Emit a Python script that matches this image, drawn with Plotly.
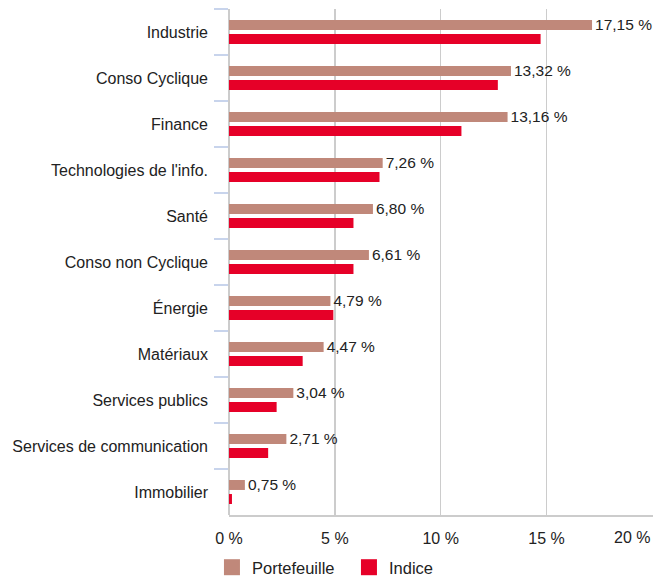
import plotly.graph_objects as go

categories = ["Industrie", "Conso Cyclique", "Finance", "Technologies de l'info.", "Santé",
              "Conso non Cyclique", "Énergie", "Matériaux", "Services publics",
              "Services de communication", "Immobilier"]
portefeuille = [17.15, 13.32, 13.16, 7.26, 6.80, 6.61, 4.79, 4.47, 3.04, 2.71, 0.75]
indice = [14.72, 12.70, 10.98, 7.11, 5.88, 5.88, 4.93, 3.48, 2.25, 1.85, 0.14]
x_ticks = [0, 5, 10, 15, 20]
x_tick_labels = ["0 %", "5 %", "10 %", "15 %", "20 %"]

FONT = "Liberation Sans, Arial, Helvetica, sans-serif"
BROWN = "#C0887A"
RED = "#E60028"
TXT = "#222222"

fig = go.Figure()
fig.add_trace(go.Bar(
    y=categories, x=portefeuille, orientation="h", name="Portefeuille",
    marker=dict(color=BROWN, line=dict(width=0)),
    texttemplate="%{x:.2f} %", textposition="outside", constraintext="none",
    textfont=dict(size=15.5, color=TXT, family=FONT),
    cliponaxis=False, hoverinfo="skip", showlegend=False,
))
fig.add_trace(go.Bar(
    y=categories, x=indice, orientation="h", name="Indice",
    marker=dict(color=RED, line=dict(width=0)),
    cliponaxis=False, hoverinfo="skip", showlegend=False,
))
# legend swatches
for nm, col in [("Portefeuille", BROWN), ("Indice", RED)]:
    fig.add_trace(go.Scatter(
        x=[None], y=[None], mode="markers", name=nm,
        marker=dict(symbol="square", size=16, color=col), hoverinfo="skip",
    ))

# last tick label is right-aligned to its gridline, as in the reference
fig.add_annotation(
    x=x_ticks[-1], y=0, xref="x", yref="paper", text=x_tick_labels[-1],
    showarrow=False, xanchor="right", yanchor="top", yshift=-12,
    font=dict(size=16, color=TXT, family=FONT),
)

fig.update_layout(
    width=655, height=577,
    margin=dict(l=229, r=2, t=9, b=62, autoexpand=False),
    paper_bgcolor="white", plot_bgcolor="white",
    barmode="group", bargap=0.39, bargroupgap=0.29,
    separators=", ",
    font=dict(family=FONT, size=16, color=TXT),
    showlegend=True,
    legend=dict(orientation="h", xref="container", yref="paper",
                x=0.3236, y=-0.1383, xanchor="left", yanchor="bottom",
                font=dict(size=16.5, color=TXT), traceorder="normal",
                entrywidth=92, entrywidthmode="pixels"),
)
fig.update_xaxes(
    range=[0, 20.03], tickvals=x_ticks, ticktext=x_tick_labels[:-1] + [""],
    showgrid=True, gridcolor="#CCCCCC", gridwidth=1.5,
    zeroline=True, zerolinecolor="#CCCCCC", zerolinewidth=1.5,
    showline=True, linecolor="#CCCCCC", linewidth=1.5,
    ticks="", ticklabelstandoff=8, tickfont=dict(size=16, color=TXT),
    fixedrange=True, automargin=False,
)
fig.update_yaxes(
    autorange="reversed", tickson="boundaries", ticks="outside",
    ticklen=14, tickcolor="#C8D4EC", tickwidth=1.5,
    ticklabelstandoff=20,
    showline=False, showgrid=False,
    tickfont=dict(size=16, color=TXT),
    fixedrange=True, automargin=False,
)

fig.write_html(
    "out.html",
    config={"displayModeBar": False, "staticPlot": True},
    post_script="document.body.style.margin='0';document.body.style.overflow='hidden';",
)
